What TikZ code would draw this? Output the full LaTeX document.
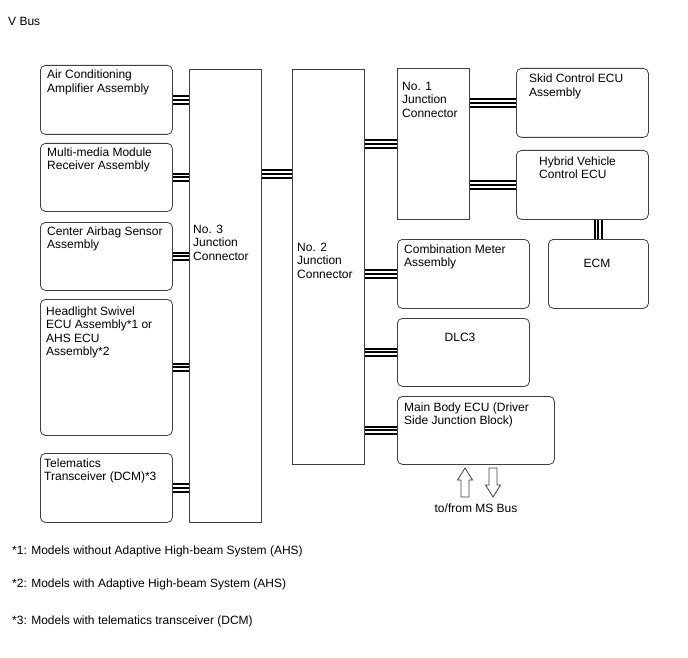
\documentclass[tikz,border=0pt]{standalone}
\usepackage{fontspec}
\setmainfont{Liberation Sans}

\begin{document}
\begin{tikzpicture}[x=1pt, y=-1pt,
  font=\fontsize{12}{13.6}\selectfont,
  ecu/.style={draw=black!75, line width=0.8pt, rounded corners=5pt, anchor=north west, inner sep=0pt, minimum width=132pt},
  jcn/.style={draw=black!75, line width=0.8pt, anchor=north west, inner sep=0pt, minimum width=72pt},
  txt/.style={anchor=base west, align=left, inner sep=0pt},
  bus/.style={draw=white, line width=5.4pt, preaction={draw=black, line width=9.4pt}, postaction={draw=black, line width=2pt}},
  hollow/.style={draw=black!75, line width=0.8pt, fill=white, line join=miter}]

\useasboundingbox (0,0) rectangle (688,658);

\node[txt] (title) at (8,26) {V Bus};

% left side (text nodes sit on the base of their last line)
\node[ecu, minimum height=69pt] (ac) at (40,65) {};
\node[txt] (ac-t) at (47,92.6) {Air Conditioning\\Amplifier Assembly};

\node[ecu, minimum height=68pt] (mm) at (40,143) {};
\node[txt] (mm-t) at (47,169.6) {Multi-media Module\\Receiver Assembly};

\node[ecu, minimum height=68pt] (cas) at (40,222) {};
\node[txt] (cas-t) at (47,248.6) {Center Airbag Sensor\\Assembly};

\node[ecu, minimum height=136pt] (hls) at (40,299) {};
\node[txt] (hls-t) at (46,355.8) {Headlight Swivel\\ECU Assembly*1 or\\AHS ECU\\Assembly*2};

\node[ecu, minimum height=69pt] (tel) at (40,453) {};
\node[txt] (tel-t) at (44,480.6) {Telematics\\Transceiver (DCM)*3};

% junction connectors
\node[jcn, minimum height=453pt] (jc3) at (189,69) {};
\node[txt] (jc3-t) at (193,260.2) {No. 3\\Junction\\Connector};

\node[jcn, minimum height=395pt] (jc2) at (292,69) {};
\node[txt] (jc2-t) at (297,278.2) {No. 2\\Junction\\Connector};

\node[jcn, minimum height=151pt] (jc1) at (397,68) {};
\node[txt] (jc1-t) at (402,117.2) {No. 1\\Junction\\Connector};

% right side
\node[ecu, minimum height=69pt] (skid) at (516,68) {};
\node[txt] (skid-t) at (529,96.6) {Skid Control ECU\\Assembly};

\node[ecu, minimum height=69pt] (hv) at (516,150) {};
\node[txt] (hv-t) at (539,178.6) {Hybrid Vehicle\\Control ECU};

\node[ecu, minimum height=69pt, minimum width=100pt] (ecm) at (548,239) {};
\node (ecm-t) at (597,263) {ECM};

\node[ecu, minimum height=69pt] (cmb) at (397,239) {};
\node[txt] (cmb-t) at (404,266.6) {Combination Meter\\Assembly};

\node[ecu, minimum height=68pt] (dlc) at (397,318) {};
\node (dlc-t) at (460,337) {DLC3};

\node[ecu, minimum height=68pt, minimum width=157pt] (mb) at (397,396) {};
\node[txt] (mb-t) at (404,424.6) {Main Body ECU (Driver\\Side Junction Block)};

% buses
\draw[bus] (ac.east) -- (ac.east -| jc3.west);
\draw[bus] (mm.east) -- (mm.east -| jc3.west);
\draw[bus] (cas.east) -- (cas.east -| jc3.west);
\draw[bus] (hls.east) -- (hls.east -| jc3.west);
\draw[bus] (tel.east) -- (tel.east -| jc3.west);

\coordinate (j32) at (jc3.east |- 0,174);
\draw[bus] (j32) -- (j32 -| jc2.west);
\draw[bus] (jc1.west) -- (jc1.west -| jc2.east);

\draw[bus] (skid.west) -- (skid.west -| jc1.east);
\draw[bus] (hv.west) -- (hv.west -| jc1.east);
\draw[bus] (ecm.north) -- (ecm.north |- hv.south);

\draw[bus] (cmb.west) -- (cmb.west -| jc2.east);
\draw[bus] (dlc.west) -- (dlc.west -| jc2.east);
\draw[bus] (mb.west) -- (mb.west -| jc2.east);

% to/from MS Bus
\coordinate (up) at (465,468);
\coordinate (dn) at (493,497);
\draw[hollow] (up) -- ++(7.5,12) -- ++(-3.5,0) -- ++(0,17) -- ++(-8,0) -- ++(0,-17) -- ++(-3.5,0) -- cycle;
\draw[hollow] (dn) -- ++(7.5,-12) -- ++(-3.5,0) -- ++(0,-17) -- ++(-8,0) -- ++(0,17) -- ++(-3.5,0) -- cycle;
\node[anchor=base] (ms) at (476,512) {to/from MS Bus};

% notes
\node[txt] (n1) at (12,554) {*1: Models without Adaptive High-beam System (AHS)};
\node[txt] (n2) at (12,587) {*2: Models with Adaptive High-beam System (AHS)};
\node[txt] (n3) at (12,624) {*3: Models with telematics transceiver (DCM)};

\end{tikzpicture}
\end{document}
